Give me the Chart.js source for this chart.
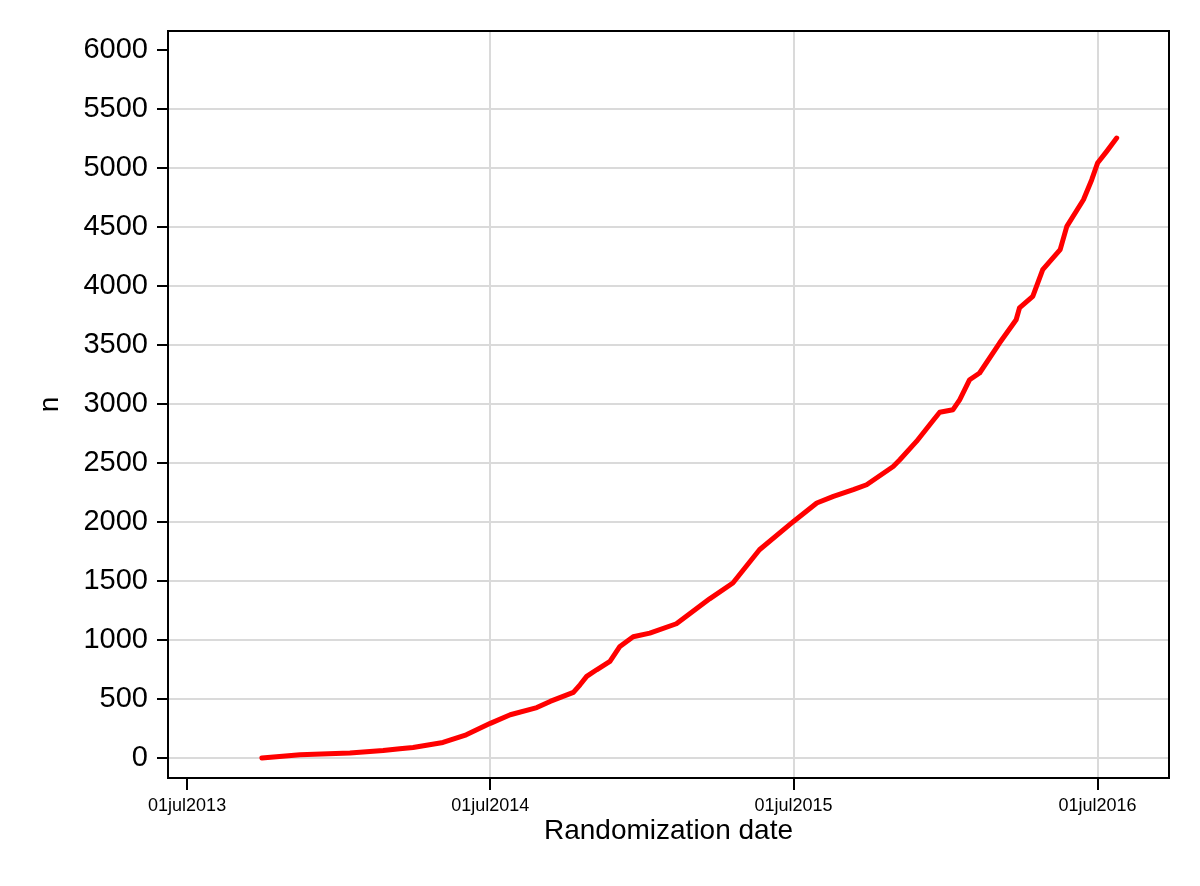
<!DOCTYPE html>
<html>
<head>
<meta charset="utf-8">
<script src="https://cdn.jsdelivr.net/npm/chart.js@4/dist/chart.umd.min.js"></script>
<style>
  html, body { margin: 0; padding: 0; background: #fff; }
  canvas { display: block; }
</style>
</head>
<body>
<canvas id="enrolChart" width="1200" height="886"></canvas>
<script>
// cumulative randomizations
const randDates = ['2013-09-29','2013-11-14','2014-01-13','2014-02-22','2014-03-14','2014-03-30','2014-05-05','2014-06-02','2014-07-01','2014-07-25',
  '2014-08-26','2014-09-11','2014-10-09','2014-10-17','2014-10-25','2014-11-06','2014-11-22','2014-12-04','2014-12-20','2015-01-09',
  '2015-02-10','2015-03-22','2015-04-19','2015-05-21','2015-07-01','2015-07-29','2015-08-18','2015-09-11','2015-09-27','2015-10-29',
  '2015-11-06','2015-11-26','2015-12-16','2015-12-24','2016-01-09','2016-01-17','2016-01-25','2016-01-29','2016-02-10','2016-03-05',
  '2016-03-25','2016-03-29','2016-04-14','2016-04-26','2016-05-17','2016-05-25','2016-06-14','2016-06-24','2016-07-01','2016-07-12',
  '2016-07-24'];
const nValues = [0,28,42,64,79,90,132,197,294,367,
  428,480,556,621,692,748,819,946,1028,1059,
  1138,1349,1483,1765,2005,2161,2217,2274,2316,2471,
  2528,2683,2860,2930,2952,3036,3149,3206,3263,3517,
  3714,3814,3912,4138,4308,4505,4731,4901,5042,5141,
  5254];

const xTickDates = ['2013-07-01','2014-07-01','2015-07-01','2016-07-01'];
const xTickLabels = ['01jul2013','01jul2014','01jul2015','01jul2016'];
const yTicks = [0,500,1000,1500,2000,2500,3000,3500,4000,4500,5000,5500,6000];
const xRange = ['2013-06-08','2016-09-25'];
const yRange = [-169, 6161];

// days since 01jul2013
const origin = Date.UTC(2013, 6, 1);
function toDay(s) {
    const p = s.split('-');
    return Math.round((Date.UTC(+p[0], +p[1] - 1, +p[2]) - origin) / 86400000);
}

const points = randDates.map((d, i) => ({ x: toDay(d), y: nValues[i] }));
const xTicks = xTickDates.map(toDay);

const font = "'Liberation Sans', Arial, Helvetica, sans-serif";
const gridGrey = '#dadada';

const frame = {
    id: 'frame',
    afterDraw(chart) {
        const { ctx, chartArea: a } = chart;
        ctx.save();
        ctx.strokeStyle = '#000';
        ctx.lineWidth = 2;
        ctx.strokeRect(a.left, a.top, a.right - a.left, a.bottom - a.top);
        ctx.restore();
    }
};

new Chart(document.getElementById('enrolChart').getContext('2d'), {
    type: 'line',
    data: {
        datasets: [{
            data: points,
            borderColor: '#ff0000',
            borderWidth: 5,
            pointRadius: 0,
            tension: 0,
            fill: false,
            borderCapStyle: 'round',
            borderJoinStyle: 'round'
        }]
    },
    options: {
        responsive: false,
        animation: false,
        layout: { padding: { top: 31, right: 31, left: 0, bottom: 0 } },
        plugins: {
            legend: { display: false },
            tooltip: { enabled: false }
        },
        scales: {
            x: {
                type: 'linear',
                min: toDay(xRange[0]),
                max: toDay(xRange[1]),
                afterBuildTicks: function(scale) {
                    scale.ticks = xTicks.map(v => ({ value: v }));
                },
                afterFit: function(scale) { scale.height = 108; },
                ticks: {
                    autoSkip: false,
                    maxRotation: 0,
                    padding: 5,
                    color: '#000',
                    font: { family: font, size: 18 },
                    callback: function(value, index) { return xTickLabels[index]; }
                },
                grid: {
                    color: ctx => ctx.index === 0 ? 'rgba(0,0,0,0)' : gridGrey,
                    lineWidth: 2,
                    tickColor: '#000',
                    tickWidth: 2,
                    tickLength: 12
                },
                border: { color: '#000', width: 2 },
                title: {
                    display: true,
                    text: 'Randomization date',
                    color: '#000',
                    font: { family: font, size: 28 },
                    padding: { top: 0, bottom: 38 }
                }
            },
            y: {
                type: 'linear',
                min: yRange[0],
                max: yRange[1],
                afterBuildTicks: function(scale) {
                    scale.ticks = yTicks.map(v => ({ value: v }));
                },
                afterFit: function(scale) { scale.width = 168; },
                ticks: {
                    padding: 9,
                    color: '#000',
                    font: { family: font, size: 29 },
                    callback: function(value) { return String(value); }
                },
                grid: {
                    color: ctx => ctx.tick && ctx.tick.value === 6000 ? 'rgba(0,0,0,0)' : gridGrey,
                    lineWidth: 2,
                    tickColor: '#000',
                    tickWidth: 2,
                    tickLength: 11
                },
                border: { color: '#000', width: 2 },
                title: {
                    display: true,
                    text: 'n',
                    color: '#000',
                    font: { family: font, size: 28 },
                    padding: { top: 33, bottom: 0 }
                }
            }
        }
    },
    plugins: [frame]
});
</script>
</body>
</html>
